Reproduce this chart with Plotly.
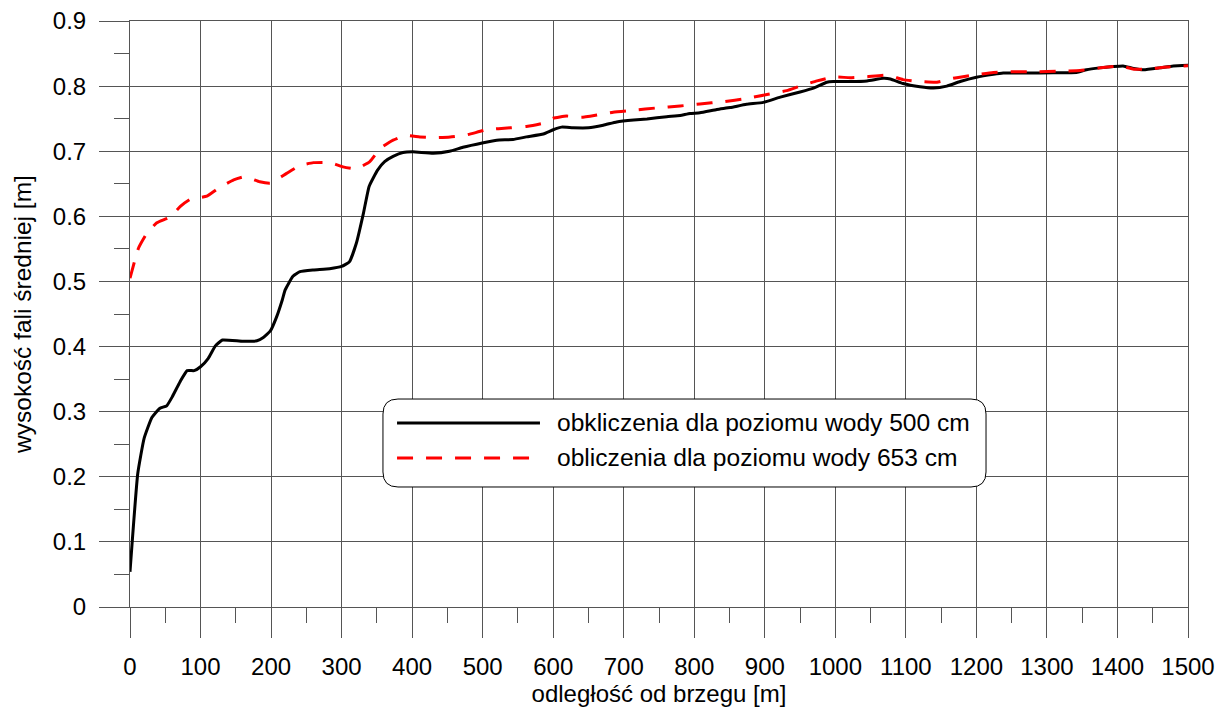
import plotly.graph_objects as go

# distance from shore [m] and mean wave height [m]
x_500 = [0, 11, 20, 31, 42, 52, 60, 71, 81, 91, 100, 111, 121, 131, 160, 180, 189, 199, 208, 216,
         220, 231, 241, 260, 283, 300, 311, 321, 331, 339, 351, 361, 373, 387, 401, 430, 453, 472,
         501, 520, 543, 562, 586, 600, 612, 628, 650, 671, 690, 714, 733, 761, 780, 794, 808, 832,
         851, 874, 898, 922, 950, 969, 988, 997, 1021, 1045, 1068, 1078, 1096, 1120, 1139, 1158,
         1177, 1200, 1224, 1238, 1271, 1309, 1342, 1356, 1375, 1394, 1408, 1423, 1437, 1460, 1479, 1500]
y_500 = [0.054, 0.205, 0.259, 0.291, 0.305, 0.309, 0.323, 0.346, 0.363, 0.363, 0.369, 0.382, 0.401,
         0.410, 0.408, 0.409, 0.414, 0.424, 0.446, 0.472, 0.487, 0.508, 0.515, 0.5176, 0.5196, 0.523,
         0.530, 0.559, 0.605, 0.646, 0.671, 0.684, 0.692, 0.698, 0.699, 0.697, 0.700, 0.706, 0.713,
         0.717, 0.718, 0.722, 0.7265, 0.733, 0.737, 0.736, 0.736, 0.740, 0.745, 0.748, 0.7495, 0.753,
         0.755, 0.758, 0.759, 0.764, 0.767, 0.772, 0.775, 0.783, 0.791, 0.797, 0.806, 0.807, 0.807,
         0.808, 0.812, 0.811, 0.804, 0.799, 0.797, 0.800, 0.807, 0.8135, 0.818, 0.820, 0.820, 0.8206,
         0.821, 0.825, 0.828, 0.830, 0.831, 0.827, 0.825, 0.828, 0.831, 0.832]

x_653 = [0, 12, 24, 38, 57, 71, 85, 109, 125, 147, 163, 184, 199, 222, 241, 260, 284, 302, 321, 340,
         355, 373, 390, 411, 435, 454, 477, 506, 539, 562, 586, 600, 619, 640, 662, 685, 714, 747,
         780, 808, 841, 874, 903, 931, 950, 974, 997, 1021, 1045, 1073, 1096, 1120, 1144, 1167, 1196,
         1224, 1252, 1281, 1319, 1347, 1375, 1404, 1423, 1442, 1470, 1500]
y_653 = [0.505, 0.551, 0.574, 0.590, 0.599, 0.615, 0.626, 0.631, 0.643, 0.656, 0.661, 0.653, 0.651,
         0.666, 0.678, 0.6825, 0.6825, 0.676, 0.673, 0.684, 0.7045, 0.717, 0.724, 0.722, 0.721, 0.722,
         0.725, 0.733, 0.736, 0.738, 0.743, 0.7506, 0.754, 0.752, 0.7556, 0.760, 0.763, 0.7665, 0.7695,
         0.7726, 0.776, 0.781, 0.787, 0.793, 0.800, 0.808, 0.814, 0.813, 0.8145, 0.817, 0.810, 0.807,
         0.806, 0.812, 0.817, 0.821, 0.822, 0.822, 0.823, 0.824, 0.828, 0.831, 0.826, 0.826, 0.8295, 0.8314]

y_ticks = [0, 0.1, 0.2, 0.3, 0.4, 0.5, 0.6, 0.7, 0.8, 0.9]
y_tick_text = ["0", "0.1", "0.2", "0.3", "0.4", "0.5", "0.6", "0.7", "0.8", "0.9"]
y_minor = [0.05, 0.15, 0.25, 0.35, 0.45, 0.55, 0.65, 0.75, 0.85]

name_500 = "obkliczenia dla poziomu wody 500 cm"
name_653 = "obliczenia dla poziomu wody 653 cm"
x_title = "odległość od brzegu [m]"
y_title = "wysokość fali średniej [m]"

FONT = "Liberation Sans, Arial, sans-serif"
GRID = "#555555"

fig = go.Figure()
fig.add_trace(go.Scatter(x=x_500, y=y_500, mode="lines", name=name_500,
                         line=dict(color="black", width=3, shape="spline", smoothing=0.4),
                         showlegend=False))
fig.add_trace(go.Scatter(x=x_653, y=y_653, mode="lines", name=name_653,
                         line=dict(color="#ff0000", width=3, dash="16px,13px", shape="spline", smoothing=0.4),
                         showlegend=False))

fig.update_layout(
    width=1217, height=699,
    margin=dict(l=122, r=37, t=13, b=100, autoexpand=False),
    paper_bgcolor="white", plot_bgcolor="white",
    font=dict(family=FONT, color="black", size=24),
    xaxis=dict(range=[0, 1500], dtick=100, tick0=0, showgrid=True, gridcolor=GRID, gridwidth=1,
               zeroline=False, showline=True, linecolor=GRID, linewidth=1, mirror=True,
               ticks="outside", ticklen=30, tickcolor=GRID, tickwidth=1,
               ticklabelstandoff=8, automargin=False, ticklabeloverflow="allow",
               minor=dict(dtick=50, ticks="outside", ticklen=15, tickcolor=GRID, showgrid=False),
               title=dict(text=x_title, font=dict(size=24), standoff=4)),
    yaxis=dict(range=[0, 0.9], tickmode="array", tickvals=y_ticks, ticktext=y_tick_text,
               showgrid=True, gridcolor=GRID, gridwidth=1,
               zeroline=False, showline=True, linecolor=GRID, linewidth=1, mirror=True,
               ticks="outside", ticklen=30, tickcolor=GRID, tickwidth=1,
               ticklabelstandoff=8, automargin=False, ticklabeloverflow="allow",
               minor=dict(tickmode="array", tickvals=y_minor, ticks="outside", ticklen=15,
                          tickcolor=GRID, showgrid=False),
               title=dict(text=y_title, font=dict(size=24.5), standoff=14)),
)

# Legend box (rounded) drawn in paper coordinates
x0, x1, yb, yt = 0.2391, 0.8091, 0.2048, 0.3549
rx, ry = 15 / 1058, 15 / 586
path = (f"M{x0+rx},{yt} L{x1-rx},{yt} Q{x1},{yt} {x1},{yt-ry} L{x1},{yb+ry} Q{x1},{yb} {x1-rx},{yb} "
        f"L{x0+rx},{yb} Q{x0},{yb} {x0},{yb+ry} L{x0},{yt-ry} Q{x0},{yt} {x0+rx},{yt} Z")
fig.add_shape(type="path", path=path, xref="paper", yref="paper",
              fillcolor="white", line=dict(color="black", width=1), layer="above")
ly1, ly2 = 0.314, 0.2543
lx0, lx1, tx = 0.2524, 0.3875, 0.4017
fig.add_shape(type="line", xref="paper", yref="paper", x0=lx0, x1=lx1, y0=ly1, y1=ly1,
              line=dict(color="black", width=3), layer="above")
fig.add_shape(type="line", xref="paper", yref="paper", x0=lx0, x1=lx1, y0=ly2, y1=ly2,
              line=dict(color="#ff0000", width=3, dash="16px,13px"), layer="above")
fig.add_annotation(x=tx, y=ly1, xref="paper", yref="paper", text=name_500, showarrow=False,
                   xanchor="left", yanchor="middle", font=dict(size=24.6))
fig.add_annotation(x=tx, y=ly2, xref="paper", yref="paper", text=name_653, showarrow=False,
                   xanchor="left", yanchor="middle", font=dict(size=24.6))

fig.write_html("out.html")
